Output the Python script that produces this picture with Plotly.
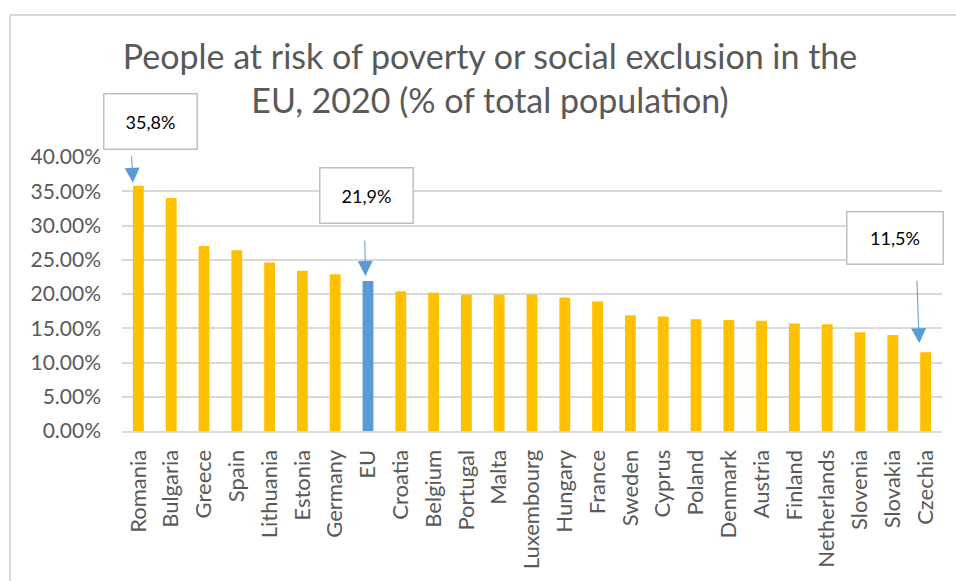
import plotly.graph_objects as go

# At-risk-of-poverty-or-social-exclusion rate, 2020 (share of total population)
countries = ["Romania", "Bulgaria", "Greece", "Spain", "Lithuania", "Estonia", "Germany",
             "EU", "Croatia", "Belgium", "Portugal", "Malta", "Luxembourg", "Hungary",
             "France", "Sweden", "Cyprus", "Poland", "Denmark", "Austria", "Finland",
             "Netherlands", "Slovenia", "Slovakia", "Czechia"]
rates = [35.8, 34.0, 27.0, 26.4, 24.6, 23.4, 22.9,
         21.9, 20.4, 20.2, 19.9, 19.9, 19.9, 19.5,
         18.9, 16.9, 16.7, 16.3, 16.2, 16.1, 15.7,
         15.6, 14.4, 14.0, 11.5]

# Callouts: category, label, offsets for arrow tail (px), tip gap/shift (px), box centre (paper)
callouts = [
    ("Romania", "35,8%", -1.3, -28, 3, -5.5, 0.0346, 1.1295, 92, 54),
    ("EU", "21,9%", -0.7, -37, 5, -2.5, 0.2987, 0.8594, 92, 54),
    ("Czechia", "11,5%", -2.3, -64, 9, -6.4, 0.9423, 0.7043, 95, 51),
]

YELLOW = "#FFC000"
BLUE = "#5B9BD5"
GRID = "#D9D9D9"
TEXT = "#595959"
FONT = "Lato"

values = [r / 100 for r in rates]
colors = [BLUE if c == "EU" else YELLOW for c in countries]

fig = go.Figure(go.Bar(
    x=countries, y=values, marker=dict(color=colors, line=dict(width=0)),
    hoverinfo="x+y",
))

annotations = []
for cat, label, ax, ay, gap, xs, bx, by, bw, bh in callouts:
    val = values[countries.index(cat)]
    annotations.append(dict(
        x=cat, y=val, xref="x", yref="y", text="", showarrow=True,
        ax=ax, ay=ay, arrowhead=2, arrowsize=3, arrowwidth=1,
        arrowcolor=BLUE, yshift=gap, xshift=xs, standoff=0,
    ))
    annotations.append(dict(
        x=bx, y=by, xref="paper", yref="paper", text=label, showarrow=False,
        xanchor="center", yanchor="middle", width=bw, height=bh,
        bordercolor="#BFBFBF", borderwidth=1.5, borderpad=0, bgcolor="white",
        font=dict(family=FONT, size=18, color="black"),
    ))

fig.update_layout(
    width=956, height=581,
    margin=dict(l=122, r=14, t=157, b=147),
    paper_bgcolor="white", plot_bgcolor="white",
    bargap=0.67,
    showlegend=False,
    title=dict(
        text="People at risk of poverty or social exclusion in the<br>EU, 2020 (% of total population)",
        x=490 / 956, xanchor="center", xref="container",
        y=1 - 69 / 581, yanchor="top", yref="container",
        font=dict(family=FONT, size=34, color=TEXT),
    ),
    xaxis=dict(
        tickangle=-90, showgrid=False, showline=True, linecolor=GRID, linewidth=2,
        ticks="", tickfont=dict(family=FONT, size=22, color=TEXT),
        ticklabelstandoff=8,
    ),
    yaxis=dict(
        range=[0, 0.40], dtick=0.05, tickformat=".2%",
        showgrid=True, gridcolor=GRID, gridwidth=2, zeroline=False,
        showline=False, ticks="", tickfont=dict(family=FONT, size=21, color=TEXT),
        ticklabelstandoff=20,
    ),
    annotations=annotations,
    shapes=[
        # chart frame (top and left edges)
        dict(type="line", xref="paper", yref="paper",
             x0=(10 - 122) / 820, x1=(960 - 122) / 820,
             y0=(434 - 13) / 277.3, y1=(434 - 13) / 277.3,
             line=dict(color=GRID, width=2)),
        dict(type="line", xref="paper", yref="paper",
             x0=(10 - 122) / 820, x1=(10 - 122) / 820,
             y0=(434 - 13) / 277.3, y1=(434 - 590) / 277.3,
             line=dict(color=GRID, width=2)),
    ],
)

fig.write_html("out.html")
